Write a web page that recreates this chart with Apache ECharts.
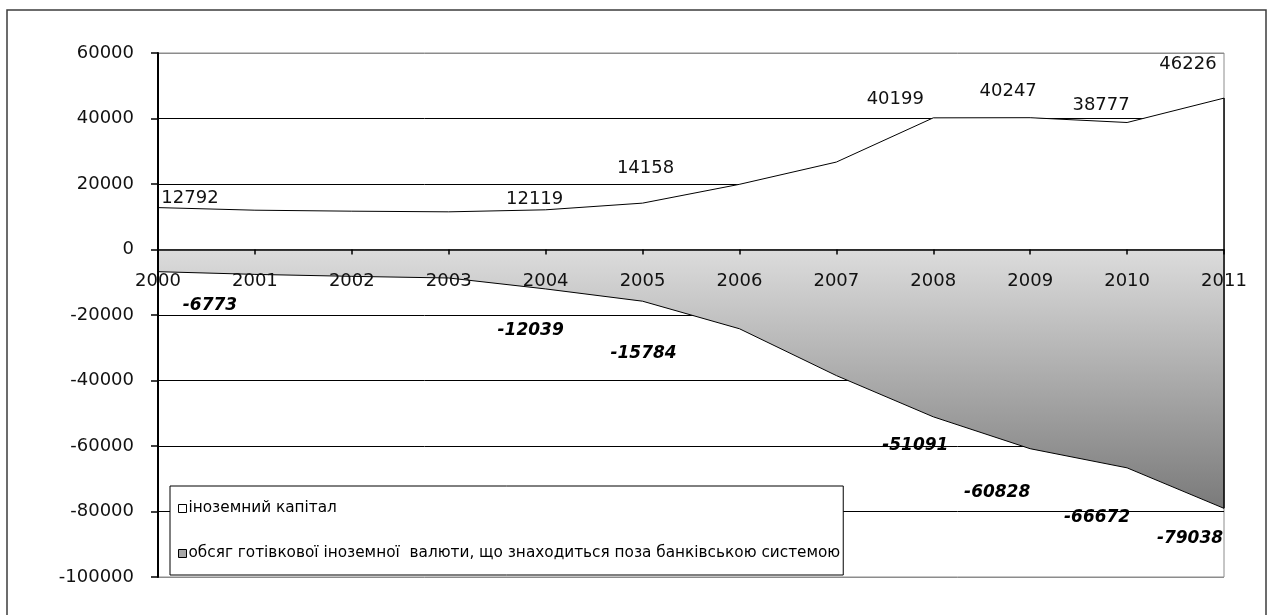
<!DOCTYPE html>
<html>
<head>
<meta charset="utf-8">
<script src="https://cdn.jsdelivr.net/npm/echarts@6/dist/echarts.min.js"></script>
<style>
  html, body { margin: 0; padding: 0; background: #fff; }
  #chart { width: 1275px; height: 615px; }
</style>
</head>
<body>
<div id="chart"></div>
<script>
// Years on the horizontal axis
const years = ['2000', '2001', '2002', '2003', '2004', '2005', '2006', '2007', '2008', '2009', '2010', '2011'];

// Foreign capital (positive area)
const foreignCapital = [12792, 12000, 11700, 11500, 12119, 14158, 19900, 26700, 40199, 40247, 38777, 46226];

// Foreign cash held outside the banking system (negative area)
const cashOutsideBanks = [-6773, -7600, -8200, -8700, -12039, -15784, -24200, -38500, -51091, -60828, -66672, -79038];

// Series names shown in the legend
const seriesNames = [
  'іноземний капітал',
  'обсяг готівкової іноземної  валюти, що знаходиться поза банківською системою'
];

// Value axis range
const yMin = -100000;
const yMax = 60000;
const yStep = 20000;

// Label placement for the annotated years (pixel offsets from each point, null = no label)
const capitalLabelOffsets = [[32, -9], null, null, null, [-11, -10], [3, -35], null, null, [-38, -19], [-22, -26], [-26, -17], [-36, -34]];
const cashLabelOffsets = [[52, 34], null, null, null, [-15, 42], [1, 52], null, null, [-18, 29], [-33, 44], [-30, 50], [-34, 30]];

const FONT = 'DejaVu Sans';

// Plot area box
const GRID = { left: 158, right: 51, top: 53, bottom: 38 };
const plotHeight = 615 - GRID.top - GRID.bottom;
// Shift the category axis up from the bottom edge to the zero level
const zeroShift = -plotHeight * (0 - yMin) / (yMax - yMin);

function withLabels(values, offsets, labelStyle) {
  return values.map((v, i) => ({
    value: v,
    label: offsets[i]
      ? Object.assign({ show: true, position: 'inside', offset: offsets[i] }, labelStyle)
      : { show: false }
  }));
}

const splitColors = [];
for (let v = yMin; v <= yMax; v += yStep) {
  splitColors.push(v === yMin || v === yMax ? '#8c8c8c' : '#000000');
}

const chart = echarts.init(document.getElementById('chart'), null, { renderer: 'canvas' });

chart.setOption({
  animation: false,
  backgroundColor: '#ffffff',
  textStyle: { fontFamily: FONT },
  grid: Object.assign({
    show: true, borderColor: '#8c8c8c', borderWidth: 1, backgroundColor: 'transparent'
  }, GRID),
  graphic: [{
    type: 'rect',
    silent: true,
    shape: { x: 7, y: 10, width: 1259, height: 640 },
    style: { fill: 'none', stroke: '#3c3c3c', lineWidth: 1.5 }
  }],
  legend: {
    orient: 'vertical',
    left: 170,
    top: 486,
    padding: [15, 3, 14, 8],
    itemGap: 30,
    itemWidth: 8,
    itemHeight: 8,
    icon: 'rect',
    backgroundColor: '#ffffff',
    borderColor: '#000000',
    borderWidth: 1,
    borderRadius: 0,
    z: 10,
    selectedMode: false,
    textStyle: { fontFamily: FONT, fontSize: 15.3, color: '#000', padding: [0, 0, 0, -3] },
    data: [
      { name: seriesNames[0], itemStyle: { color: '#ffffff', borderColor: '#000', borderWidth: 1 } },
      { name: seriesNames[1], itemStyle: { color: '#a6a6a6', borderColor: '#000', borderWidth: 1 } }
    ]
  },
  xAxis: {
    type: 'category',
    data: years,
    boundaryGap: false,
    position: 'bottom',
    offset: zeroShift,
    z: 4,
    axisLine: { onZero: false, lineStyle: { color: '#000', width: 1.5 } },
    axisTick: { show: true, length: 5, lineStyle: { color: '#000', width: 1.5 } },
    axisLabel: { color: '#111', fontSize: 18, fontFamily: FONT, margin: 23, interval: 0 },
    splitLine: { show: false }
  },
  yAxis: [{
    type: 'value',
    min: yMin, max: yMax, interval: yStep,
    z: 0,
    axisLine: { show: false },
    axisTick: { show: false },
    axisLabel: { show: false },
    splitLine: { show: true, lineStyle: { color: splitColors, width: 1 } }
  }, {
    type: 'value',
    position: 'left',
    min: yMin, max: yMax, interval: yStep,
    z: 4,
    axisLine: { show: true, onZero: false, lineStyle: { color: '#000', width: 2 } },
    axisTick: { show: true, length: 7, lineStyle: { color: '#000', width: 1.5 } },
    axisLabel: { color: '#111', fontSize: 18, fontFamily: FONT, margin: 24, formatter: v => String(v) },
    splitLine: { show: false }
  }],
  series: [{
    name: seriesNames[0],
    type: 'line',
    yAxisIndex: 0,
    z: 2,
    symbol: 'circle',
    symbolSize: 1,
    itemStyle: { color: 'rgba(0,0,0,0)' },
    lineStyle: { color: '#000', width: 1 },
    areaStyle: { color: '#ffffff', opacity: 1, origin: 0 },
    emphasis: { disabled: true },
    data: withLabels(foreignCapital, capitalLabelOffsets, {
      fontFamily: FONT, fontSize: 18, color: '#111'
    })
  }, {
    name: seriesNames[1],
    type: 'line',
    yAxisIndex: 0,
    z: 2,
    symbol: 'circle',
    symbolSize: 1,
    itemStyle: { color: 'rgba(0,0,0,0)' },
    lineStyle: { color: '#000', width: 1 },
    areaStyle: {
      origin: 0,
      opacity: 1,
      color: new echarts.graphic.LinearGradient(0, 0, 0, 1, [
        { offset: 0, color: '#dcdcdc' },
        { offset: 1, color: '#7a7a7a' }
      ])
    },
    emphasis: { disabled: true },
    markLine: {
      silent: true,
      symbol: ['none', 'none'],
      label: { show: false },
      lineStyle: { color: '#000', width: 1.5, type: 'solid' },
      data: [[
        { coord: [years[years.length - 1], foreignCapital[foreignCapital.length - 1]] },
        { coord: [years[years.length - 1], cashOutsideBanks[cashOutsideBanks.length - 1]] }
      ]]
    },
    data: withLabels(cashOutsideBanks, cashLabelOffsets, {
      fontFamily: FONT, fontSize: 17, fontWeight: 'bold', fontStyle: 'italic', color: '#000'
    })
  }]
});
</script>
</body>
</html>
